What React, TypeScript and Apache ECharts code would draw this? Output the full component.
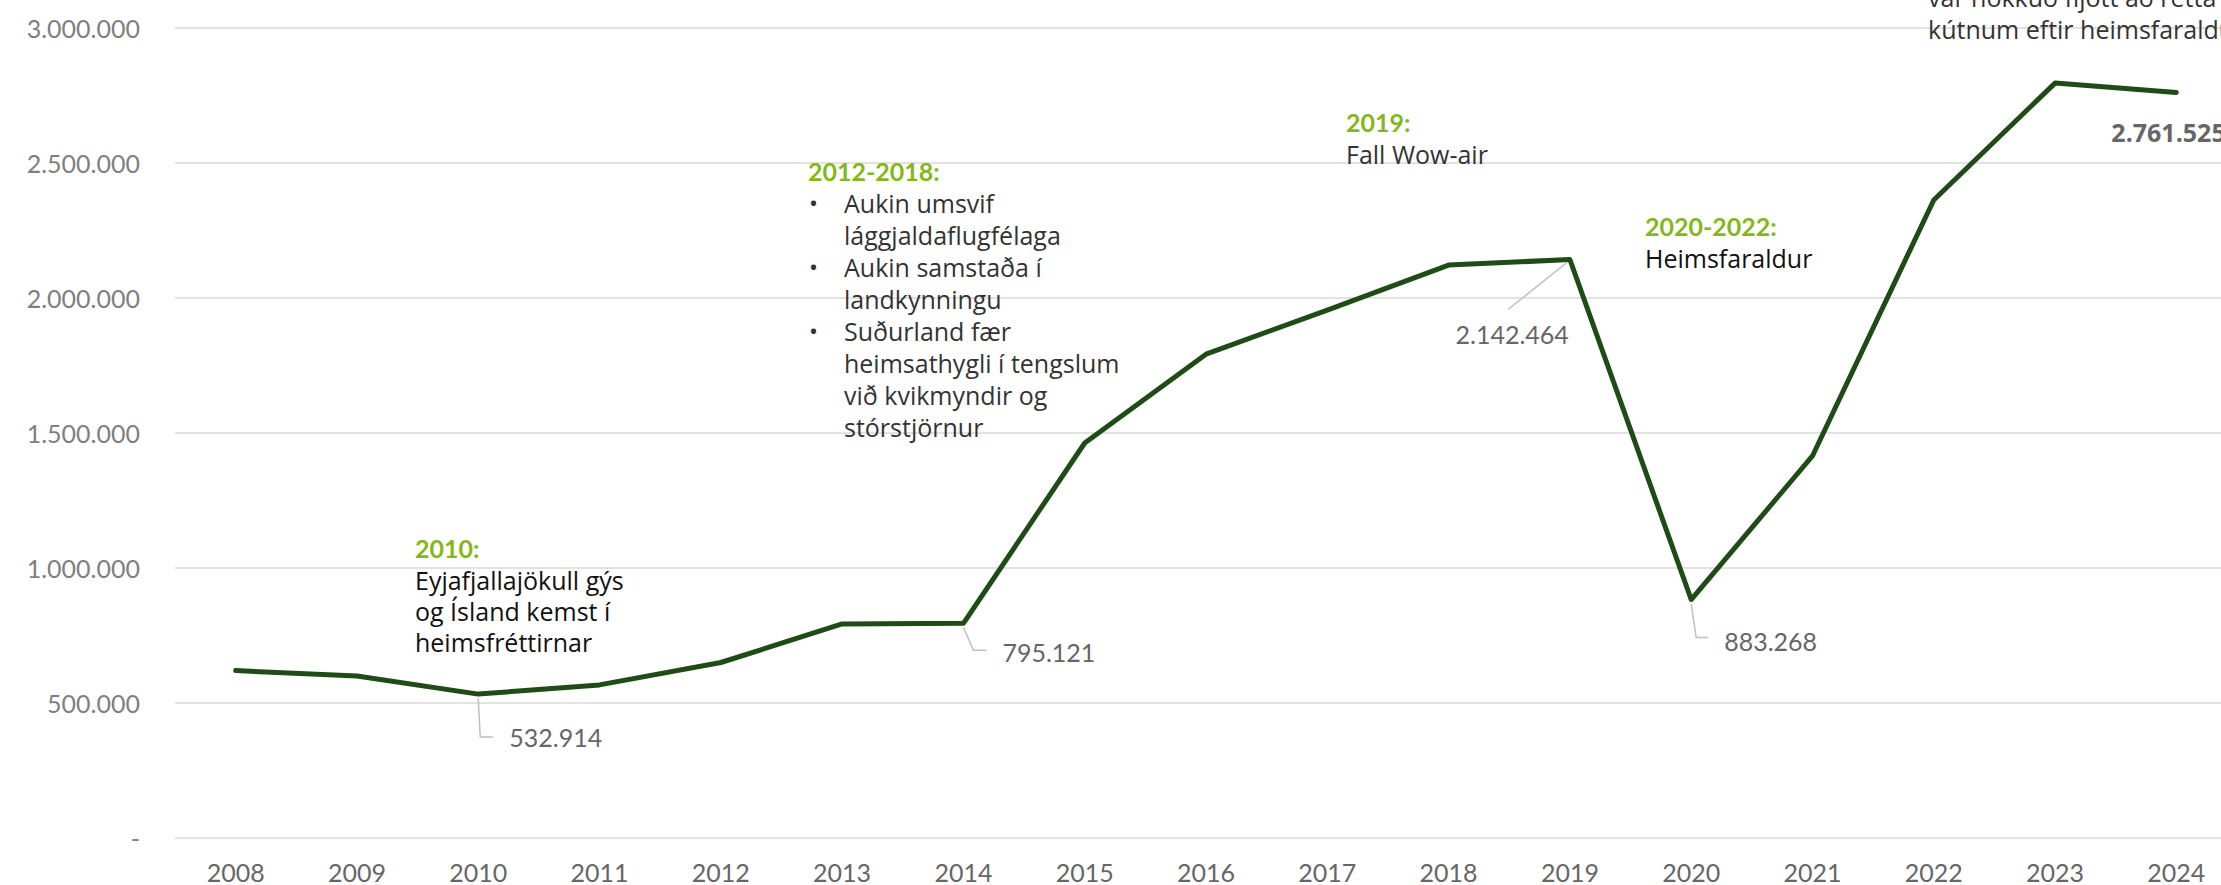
import React, { useEffect, useRef } from "react";
import * as echarts from "echarts";

// ---------- data ----------
const YEARS = ["2008", "2009", "2010", "2011", "2012", "2013", "2014", "2015", "2016", "2017", "2018", "2019", "2020", "2021", "2022", "2023", "2024"];
const VISITORS = [620000, 600000, 532914, 567000, 650000, 793000, 795121, 1463000, 1792000, 1955000, 2122000, 2142464, 883268, 1415000, 2363000, 2796000, 2761525];
const Y_MIN = 0;
const Y_MAX = 3000000;
const Y_STEP = 500000;

const NOTE_2010_HEAD = "2010:";
const NOTE_2010_BODY = ["Eyjafjallajökull gýs", "og Ísland kemst í", "heimsfréttirnar"];
const NOTE_2012_HEAD = "2012-2018:";
const NOTE_2012_ITEMS = [
  ["Aukin umsvif", "lággjaldaflugfélaga"],
  ["Aukin samstaða í", "landkynningu"],
  ["Suðurland fær", "heimsathygli í tengslum", "við kvikmyndir og", "stórstjörnur"],
];
const NOTE_2019_HEAD = "2019:";
const NOTE_2019_BODY = ["Fall Wow-air"];
const NOTE_2020_HEAD = "2020-2022:";
const NOTE_2020_BODY = ["Heimsfaraldur"];
const NOTE_2023_BODY = ["var nokkuð fljótt að rétta úr", "kútnum eftir heimsfaraldur"];

// ---------- style ----------
const GREEN = "#84b81a";
const LINE = "#1e4b16";
const FONT = "Lato";
const BODY_FONT = "Open Sans";
const BODY_SIZE = 25;
const OFF = 40; // chart is shifted up by this many px (top of the original is cropped)
const CW = 2300;
const CH = 885 + OFF;

const fmt = (v: number) =>
  v === 0 ? "-" : Math.round(v).toString().replace(/\B(?=(\d{3})+(?!\d))/g, ".");

export default function App() {
  const ref = useRef<HTMLDivElement>(null);

  useEffect(() => {
    if (!ref.current) return;
    const chart = echarts.init(ref.current, undefined, { renderer: "svg" });
    const gridLeft = 175;
    const gridWidth = 2062;
    chart.setOption({
      animation: false,
      backgroundColor: "#ffffff",
      grid: {
        left: gridLeft,
        right: CW - gridLeft - gridWidth,
        top: 28 + OFF,
        bottom: CH - (838 + OFF),
        containLabel: false,
        outerBoundsMode: "none",
      },
      xAxis: {
        type: "category",
        data: YEARS,
        boundaryGap: true,
        axisLine: { show: false },
        axisTick: { show: false },
        splitLine: { show: false },
        axisLabel: { color: "#666666", fontSize: 25, fontFamily: FONT, margin: 21 },
      },
      yAxis: {
        type: "value",
        min: Y_MIN,
        max: Y_MAX,
        interval: Y_STEP,
        axisLine: { show: false },
        axisTick: { show: false },
        axisLabel: { color: "#7f7f7f", fontSize: 25, fontFamily: FONT, margin: 35, formatter: fmt },
        splitLine: { lineStyle: { color: "#d9d9d9", width: 1.5 } },
      },
      series: [
        {
          type: "line",
          data: VISITORS,
          symbol: "none",
          lineStyle: { color: LINE, width: 5, cap: "round", join: "round" },
          z: 3,
        },
      ],
    });

    const px = (i: number) => chart.convertToPixel({ xAxisIndex: 0, yAxisIndex: 0 }, [i, VISITORS[i]]) as number[];

    const head = (text: string, x: number, yc: number) => ({
      type: "text", x, y: yc + OFF, z: 10,
      style: { text, fill: GREEN, fontFamily: FONT, fontWeight: "bold", fontSize: 25, verticalAlign: "middle" },
    });
    const body = (lines: string[], x: number, firstBaseline: number, lh: number, fill: string, size = BODY_SIZE) => ({
      type: "text", x, y: firstBaseline - 0.3 * size - lh / 2 + OFF, z: 10,
      style: { text: lines.join("\n"), fill, fontFamily: BODY_FONT, fontSize: size, lineHeight: lh, verticalAlign: "top" },
    });
    const valLabel = (text: string, x: number, y: number, align: string, bold = false) => ({
      type: "text", x, y, z: 10,
      style: {
        text, fill: "#666666", fontFamily: bold ? BODY_FONT : FONT, fontSize: 25,
        fontWeight: bold ? "bold" : "normal", align, verticalAlign: "middle",
      },
    });
    const leader = (pts: number[][]) => ({
      type: "polyline", z: 9,
      shape: { points: pts },
      style: { stroke: "#bfbfbf", lineWidth: 1.5, fill: null },
    });

    const bulletLines: string[] = [];
    const bulletMarks: string[] = [];
    NOTE_2012_ITEMS.forEach((item) => {
      item.forEach((l, k) => {
        bulletLines.push(l);
        bulletMarks.push(k === 0 ? "•" : "");
      });
    });

    const [x10, y10] = px(2);
    const [x14, y14] = px(6);
    const [x19, y19] = px(11);
    const [x20, y20] = px(12);
    const [x24, y24] = px(16);

    chart.setOption({
      graphic: [
        head(NOTE_2010_HEAD, 415, 547.5),
        body(NOTE_2010_BODY, 415, 587, 31, "#111111"),
        head(NOTE_2012_HEAD, 808, 170.5),
        body(bulletMarks, 809, 210, 32, "#333333", 24),
        body(bulletLines, 844, 210, 32, "#333333"),
        head(NOTE_2019_HEAD, 1346, 121.5),
        body(NOTE_2019_BODY, 1346, 161, 32, "#333333"),
        head(NOTE_2020_HEAD, 1645, 225.5),
        body(NOTE_2020_BODY, 1645, 265, 32, "#111111"),
        body(NOTE_2023_BODY, 1928, 4, 32, "#333333"),

        leader([[x10, y10 + 4], [x10 + 2, y10 + 43], [x10 + 15, y10 + 43]]),
        valLabel(fmt(VISITORS[2]), x10 + 31, y10 + 43, "left"),
        leader([[x14, y14 + 4], [x14 + 10, y14 + 27], [x14 + 23, y14 + 27]]),
        valLabel(fmt(VISITORS[6]), x14 + 39, y14 + 29, "left"),
        leader([[x19 - 3, y19 + 3], [x19 - 62, y19 + 50]]),
        valLabel(fmt(VISITORS[11]), x19 - 1, y19 + 74, "right"),
        leader([[x20, y20 + 4], [x20 + 5, y20 + 38], [x20 + 17, y20 + 38]]),
        valLabel(fmt(VISITORS[12]), x20 + 33, y20 + 41, "left"),
        valLabel(fmt(VISITORS[16]), x24 - 65, y24 + 40, "left", true),
      ],
    });

    return () => chart.dispose();
  }, []);

  return (
    <div style={{ position: "fixed", left: 0, top: 0, width: 2221, height: 885, overflow: "hidden", background: "#ffffff" }}>
      <div ref={ref} style={{ position: "absolute", left: 0, top: -OFF, width: CW, height: CH }} />
    </div>
  );
}
